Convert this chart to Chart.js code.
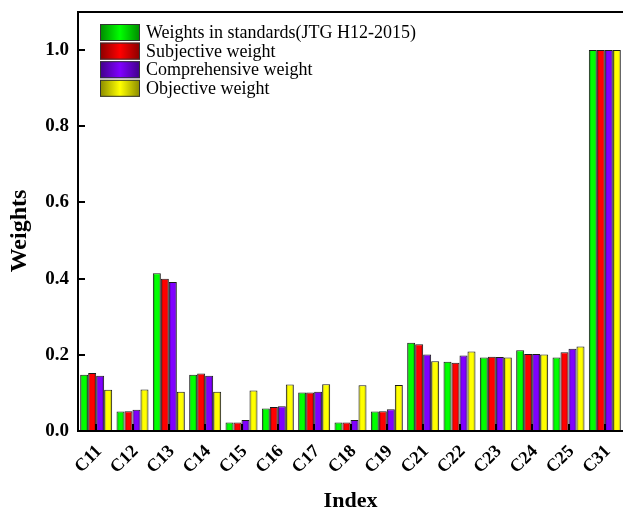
<!DOCTYPE html>
<html>
<head>
<meta charset="utf-8">
<script src="https://cdn.jsdelivr.net/npm/chart.js@4.4.1/dist/chart.umd.min.js"></script>
<style>
  html, body { margin: 0; padding: 0; background: #fff; }
  #wrap { width: 623px; height: 513px; }
</style>
</head>
<body>
<div id="wrap"><canvas id="chart" width="623" height="513"></canvas></div>
<script>
// Index categories
const categories = ['C11','C12','C13','C14','C15','C16','C17','C18','C19','C21','C22','C23','C24','C25','C31'];

// Weight series
const standardWeights      = [0.148,0.051,0.414,0.148,0.022,0.059,0.101,0.022,0.051,0.232,0.182,0.193,0.212,0.193,1.000];
const subjectiveWeights    = [0.152,0.052,0.400,0.151,0.022,0.063,0.101,0.022,0.052,0.228,0.179,0.195,0.202,0.207,1.000];
const comprehensiveWeights = [0.145,0.056,0.391,0.145,0.029,0.065,0.103,0.029,0.057,0.201,0.198,0.194,0.202,0.216,1.000];
const objectiveWeights     = [0.108,0.109,0.103,0.103,0.106,0.122,0.123,0.120,0.121,0.183,0.209,0.193,0.201,0.222,1.000];

const seriesLabels = [
  'Weights in standards(JTG H12-2015)',
  'Subjective weight',
  'Comprehensive weight',
  'Objective weight'
];

// Y tick values
const yTicks = [0.0, 0.2, 0.4, 0.6, 0.8, 1.0];

const yTitle = 'Weights';
const xTitle = 'Index';

// bright / shaded colour pairs for each series
const palette = [
  { light: '#00ff00', dark: '#008a00' },
  { light: '#ff0000', dark: '#8a0000' },
  { light: '#8000ff', dark: '#400088' },
  { light: '#ffff00', dark: '#8a8a00' }
];

const CAT_PCT = 0.88;
const FONT = "'Liberation Serif', 'Times New Roman', serif";

function barGradient(ctx) {
  const chart = ctx.chart;
  const ds = ctx.datasetIndex;
  const col = palette[ds];
  const xs = chart.scales && chart.scales.x;
  if (ctx.type !== 'data' || !xs || !chart.chartArea) return col.light;
  const catW = (xs.right - xs.left) / categories.length;
  const groupW = catW * CAT_PCT;
  const barW = groupW / 4;
  const center = xs.getPixelForValue(ctx.dataIndex);
  const left = center - groupW / 2 + ds * barW;
  const g = chart.ctx.createLinearGradient(left, 0, left + barW, 0);
  g.addColorStop(0, col.dark);
  g.addColorStop(0.3, col.light);
  g.addColorStop(0.7, col.light);
  g.addColorStop(1, col.dark);
  return g;
}

// Frame, inward tick marks, y title and in-plot legend
const framePlugin = {
  id: 'frame',
  afterDatasetsDraw(chart) {
    const { ctx, chartArea: a, scales } = chart;
    ctx.save();
    ctx.strokeStyle = '#000';
    ctx.lineWidth = 2;
    ctx.lineCap = 'butt';
    // y ticks (inward)
    yTicks.forEach(v => {
      const y = Math.round(scales.y.getPixelForValue(v));
      ctx.beginPath();
      ctx.moveTo(a.left, y);
      ctx.lineTo(a.left + 7, y);
      ctx.stroke();
    });
    // x ticks (inward)
    categories.forEach((c, i) => {
      const x = Math.round(scales.x.getPixelForValue(i));
      ctx.beginPath();
      ctx.moveTo(x, a.bottom);
      ctx.lineTo(x, a.bottom - 7);
      ctx.stroke();
    });
    // axes and top frame
    ctx.beginPath();
    ctx.moveTo(a.right, a.top);
    ctx.lineTo(a.left, a.top);
    ctx.lineTo(a.left, a.bottom);
    ctx.lineTo(a.right, a.bottom);
    ctx.stroke();

    // y axis title
    ctx.save();
    ctx.translate(20, 231);
    ctx.rotate(-Math.PI / 2);
    ctx.font = 'bold 24px ' + FONT;
    ctx.fillStyle = '#000';
    ctx.textAlign = 'center';
    ctx.textBaseline = 'middle';
    ctx.fillText(yTitle, 0, 0);
    ctx.restore();

    // legend
    const lx = 100, ly = 24, sw = 40, sh = 17, step = 18.6;
    ctx.font = '18px ' + FONT;
    ctx.textBaseline = 'middle';
    ctx.textAlign = 'left';
    seriesLabels.forEach((label, i) => {
      const top = ly + i * step;
      const g = ctx.createLinearGradient(lx, 0, lx + sw, 0);
      g.addColorStop(0, palette[i].dark);
      g.addColorStop(0.5, palette[i].light);
      g.addColorStop(1, palette[i].dark);
      ctx.fillStyle = g;
      ctx.fillRect(lx, top, sw, sh);
      ctx.lineWidth = 1;
      ctx.strokeStyle = '#333';
      ctx.strokeRect(lx + 0.5, top + 0.5, sw - 1, sh - 1);
      ctx.fillStyle = '#000';
      ctx.fillText(label, lx + sw + 6, top + sh / 2 + 1);
    });
    ctx.restore();
  }
};

const datasets = [standardWeights, subjectiveWeights, comprehensiveWeights, objectiveWeights].map((d, i) => ({
  label: seriesLabels[i],
  data: d,
  backgroundColor: barGradient,
  borderColor: '#1a1a1a',
  borderWidth: 1,
  borderSkipped: false,
  categoryPercentage: CAT_PCT,
  barPercentage: 1.0
}));

new Chart(document.getElementById('chart'), {
  type: 'bar',
  data: { labels: categories, datasets },
  options: {
    responsive: false,
    animation: false,
    devicePixelRatio: 1,
    layout: { padding: { top: 12, right: 0, left: 0, bottom: 0 } },
    plugins: {
      legend: { display: false },
      tooltip: { enabled: false }
    },
    scales: {
      x: {
        grid: { display: false, drawTicks: false },
        border: { display: false },
        ticks: {
          color: '#000',
          font: { family: FONT, size: 18, weight: 'bold' },
          minRotation: 45,
          maxRotation: 45,
          padding: 10,
          labelOffset: 3,
          autoSkip: false
        },
        title: {
          display: true,
          text: xTitle,
          color: '#000',
          font: { family: FONT, size: 22, weight: 'bold' },
          padding: { top: 0, bottom: -2 }
        },
        afterFit(scale) {
          scale.height = 82;
          scale.paddingLeft = 0;
          scale.paddingRight = 0;
        }
      },
      y: {
        min: 0,
        max: 1.1,
        grid: { display: false, drawTicks: false },
        border: { display: false },
        afterBuildTicks(scale) {
          scale.ticks = yTicks.map(v => ({ value: v }));
        },
        ticks: {
          color: '#000',
          font: { family: FONT, size: 19, weight: 'bold' },
          padding: 9,
          callback: v => Number(v).toFixed(1)
        },
        afterFit(scale) {
          scale.width = 78;
          scale.paddingTop = 0;
          scale.paddingBottom = 0;
        }
      }
    }
  },
  plugins: [framePlugin]
});
</script>
</body>
</html>
